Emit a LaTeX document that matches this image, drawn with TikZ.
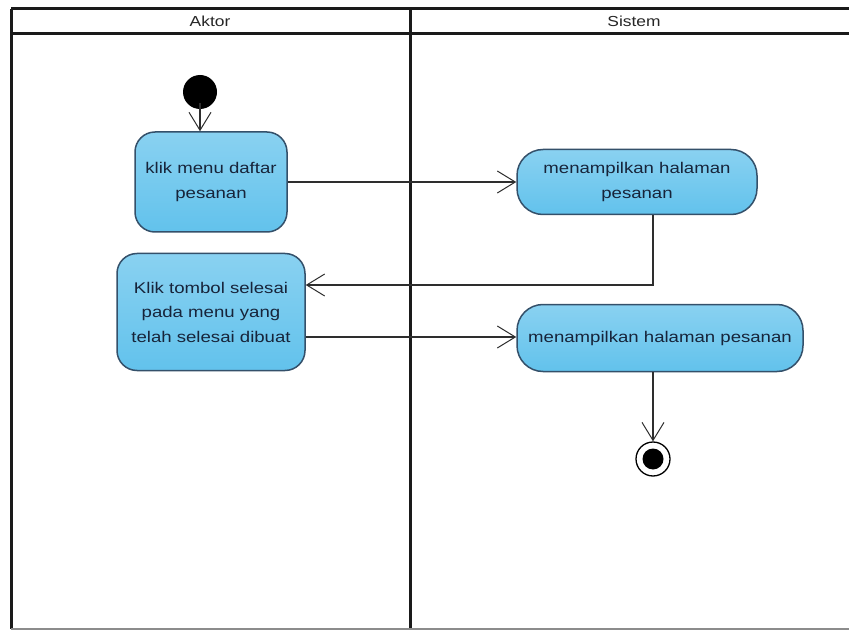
\documentclass[tikz,border=0pt]{standalone}
\usepackage{fontspec}
\setmainfont{Liberation Sans}
\newfontfamily\boxfont[FakeStretch=1.2]{Liberation Sans}
\usetikzlibrary{arrows.meta}
\definecolor{actfill}{HTML}{62C2EC}
\definecolor{actedge}{HTML}{34506A}
\definecolor{acttext}{HTML}{17243A}
\definecolor{laneline}{HTML}{1A1A1A}
\definecolor{flowline}{HTML}{2E2E2E}
\tikzset{
  x=1pt, y=-1pt,
  action/.style={draw=actedge, line width=1.5pt, top color=actfill!75!white, bottom color=actfill,
    inner sep=0pt, align=center, text=acttext, font=\boxfont\fontsize{15.5}{24.5}\selectfont},
  lanetitle/.style={font=\boxfont\fontsize{14.5}{16}\selectfont, text=black!85},
  flow/.style={draw=flowline, line width=1.1pt,
    -{Straight Barb[length=18pt,width=22pt,line width=1pt]}},
  lane/.style={draw=laneline, line width=3pt},
}
\begin{document}
\begin{tikzpicture}
\useasboundingbox (0,0) rectangle (849,631);
\fill[white] (0,0) rectangle (849,631);

% swimlane frame
\draw[lane] (11,9) -- (849,9);
\draw[lane] (11,34) -- (849,34);
\draw[lane] (11,9) -- (11,629);
\draw[lane] (410,9) -- (410,629);
\draw[draw=black!45, line width=1.6pt] (11,629) -- (849,629);
\node[lanetitle] (laneA) at (210,21.5) {Aktor};
\node[lanetitle] (laneS) at (634,21.5) {Sistem};

% start and end markers
\node[circle, fill=black, minimum size=34pt, inner sep=0pt] (start) at (200,92) {};
\node[circle, draw=black, line width=1.3pt, fill=white, minimum size=34pt, inner sep=0pt] (final) at (653,459) {};
\node[circle, fill=black, minimum size=21pt, inner sep=0pt] (finaldot) at (653,459) {};

% actions
\node[action, rounded corners=20pt, minimum width=152pt, minimum height=100pt] (a1) at (211,182)
  {klik menu daftar\\pesanan};
\node[action, rounded corners=26pt, minimum width=240pt, minimum height=65pt] (s1) at (637,182)
  {menampilkan halaman\\pesanan};
\node[action, rounded corners=20pt, minimum width=188pt, minimum height=117pt] (a2) at (211,312)
  {Klik tombol selesai\\pada menu yang\\telah selesai dibuat};
\node[action, rounded corners=26pt, minimum width=286pt, minimum height=67pt] (s2) at (660,338)
  {menampilkan halaman pesanan};

% control flow
\draw[flow] (start.south -| 200,0) ++(0,-6) -- (a1.north -| 200,0);
\draw[flow] (a1.east |- 0,182) -- (s1.west |- 0,182);
\coordinate (bend) at (653,285);
\draw[flow] (s1.south -| bend) -- (bend) -- (a2.east |- bend);
\draw[flow] (a2.east |- 0,337) -- (s2.west |- 0,337);
\draw[flow] (s2.south -| final) -- (final.north);
\end{tikzpicture}
\end{document}
